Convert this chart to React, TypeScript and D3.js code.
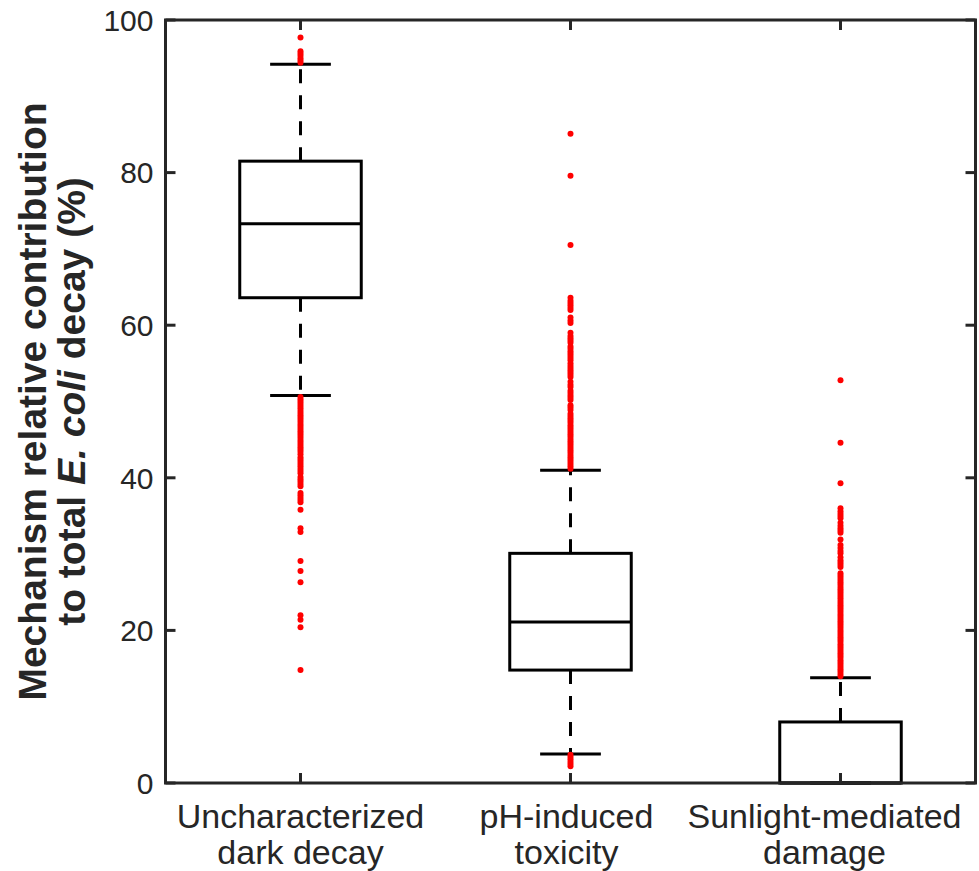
import React from "react";
import * as d3 from "d3";

const categories = ["Uncharacterized\ndark decay", "pH-induced\ntoxicity", "Sunlight-mediated\ndamage"];
const q1 = [63.6, 14.8, 0];
const median = [73.3, 21.1, 0];
const q3 = [81.5, 30.1, 8.0];
const whiskerLow = [50.8, 3.8, 0];
const whiskerHigh = [94.2, 41.0, 13.8];

const outliers1 = [
  94.4, 94.7, 95.0, 95.3, 95.6, 95.9, 97.7,
  50.6, 50.3, 50.0, 49.7, 49.4, 49.1, 48.8, 48.5, 48.2, 47.9, 47.6, 47.3, 47.0, 46.7, 46.4, 46.1,
  45.8, 45.5, 45.2, 44.9, 44.6, 44.3, 44.0, 43.7, 43.4, 43.1, 42.7, 42.4, 42.1, 41.8, 41.5, 41.2,
  40.9, 40.6, 40.1, 39.8, 39.5, 39.2, 38.9, 38.0, 37.7, 37.4, 37.1, 36.8, 35.8, 33.4, 32.9,
  29.1, 27.8, 26.3, 22.0, 21.4, 20.4, 14.8,
];
const outliers2 = [
  2.2, 2.5, 2.8, 3.1, 3.4, 3.7,
  41.2, 41.5, 41.8, 42.1, 42.4, 42.7, 43.0, 43.3, 43.6, 43.9, 44.2, 44.5, 44.8, 45.1, 45.4, 45.7,
  46.0, 46.3, 46.6, 46.9, 47.2, 47.5, 47.8, 48.1, 48.4, 48.9, 49.2, 49.5, 50.2, 50.5, 50.8, 51.1,
  51.4, 51.9, 52.2, 52.6, 53.2, 53.5, 53.8, 54.1, 54.4, 54.7, 55.0, 55.4, 55.7, 56.0, 56.3, 56.6,
  56.9, 57.2, 57.7, 58.0, 58.3, 58.6, 59.0, 60.3, 60.6, 61.0, 62.0, 62.3, 62.6, 62.9, 63.2, 63.6,
  70.5, 79.6, 85.1,
];
const outliers3 = [
  14.0, 14.3, 14.6, 14.9, 15.2, 15.5, 15.8, 16.1, 16.4, 16.7, 17.0, 17.3, 17.6, 17.9, 18.2, 18.5,
  18.8, 19.1, 19.4, 19.7, 20.0, 20.3, 20.6, 20.9, 21.2, 21.5, 21.8, 22.1, 22.4, 22.7, 23.0, 23.3,
  23.6, 23.9, 24.2, 24.5, 24.8, 25.1, 25.4, 25.7, 26.0, 26.3, 26.6, 26.9, 27.2, 27.5, 28.3, 28.6,
  28.9, 29.2, 29.6, 30.1, 30.4, 30.8, 31.2, 31.9, 32.8, 33.1, 33.4, 33.7, 34.1, 34.7, 35.0, 35.3,
  35.6, 36.0, 39.3, 44.6, 52.8,
];
const outliers = [outliers1, outliers2, outliers3];
const yTicks = [0, 20, 40, 60, 80, 100];

const W = 979;
const H = 871;
const FONT = "'Liberation Sans', Arial, Helvetica, sans-serif";
const AX = "#262626";
// horizontal nudges for the category labels (layout only)
const LABEL_SHIFT = [0, -4, -16];

export default function App() {
  const x = d3.scaleLinear().domain([0.5, 3.5]).range([165.5, 975.5]);
  const y = d3.scaleLinear().domain([0, 100]).range([783, 20]);
  const boxW = x(1.45) - x(1);
  const capW = boxW / 2;
  const [x0, x1] = x.range();
  const [yb, yt] = y.range();

  return (
    <svg width={W} height={H} style={{ position: "absolute", left: 0, top: 0, background: "#fff" }}>
      {categories.map((c, i) => {
        const cx = x(i + 1);
        return (
          <g key={i} stroke="#000" strokeWidth={3} fill="none">
            <line x1={cx} x2={cx} y1={y(q3[i])} y2={y(whiskerHigh[i])} strokeDasharray="14,12" />
            <line x1={cx} x2={cx} y1={y(q1[i])} y2={y(whiskerLow[i])} strokeDasharray="14,12" />
            <rect x={cx - boxW / 2} y={y(q3[i])} width={boxW} height={y(q1[i]) - y(q3[i])} />
            <line x1={cx - boxW / 2} x2={cx + boxW / 2} y1={y(median[i])} y2={y(median[i])} />
            <line x1={cx - capW / 2} x2={cx + capW / 2} y1={y(whiskerHigh[i])} y2={y(whiskerHigh[i])} />
            <line x1={cx - capW / 2} x2={cx + capW / 2} y1={y(whiskerLow[i])} y2={y(whiskerLow[i])} />
          </g>
        );
      })}
      {outliers.map((arr, i) => (
        <g key={i} fill="#ff0000">
          {arr.map((v, j) => (
            <circle key={j} cx={x(i + 1)} cy={y(v)} r={3} />
          ))}
        </g>
      ))}
      <rect x={x0} y={yt} width={x1 - x0} height={yb - yt} fill="none" stroke={AX} strokeWidth={3} />
      {yTicks.map((t) => (
        <g key={t}>
          <line x1={x0} x2={x0 + 10} y1={y(t)} y2={y(t)} stroke={AX} strokeWidth={3} />
          <line x1={x1} x2={x1 - 10} y1={y(t)} y2={y(t)} stroke={AX} strokeWidth={3} />
          <text x={x0 - 12} y={y(t)} dy="0.36em" textAnchor="end" fontFamily={FONT} fontSize={30} fill={AX}>
            {t}
          </text>
        </g>
      ))}
      {categories.map((c, i) => {
        const cx = x(i + 1);
        const lines = c.split("\n");
        return (
          <g key={i}>
            <line x1={cx} x2={cx} y1={yb} y2={yb - 10} stroke={AX} strokeWidth={3} />
            <line x1={cx} x2={cx} y1={yt} y2={yt + 10} stroke={AX} strokeWidth={3} />
            {lines.map((l, k) => (
              <text key={k} x={cx + LABEL_SHIFT[i]} y={828 + k * 36} textAnchor="middle" fontFamily={FONT} fontSize={34} fill={AX}>
                {l}
              </text>
            ))}
          </g>
        );
      })}
      <g transform={`translate(46, ${(yb + yt) / 2}) rotate(-90)`}>
        <text x={0} y={0} textAnchor="middle" fontFamily={FONT} fontSize={39} fontWeight="bold" fill={AX}>
          Mechanism relative contribution
        </text>
        <text x={0} y={39} textAnchor="middle" fontFamily={FONT} fontSize={39} fontWeight="bold" fill={AX}>
          to total <tspan fontStyle="italic">E. coli</tspan> decay (%)
        </text>
      </g>
    </svg>
  );
}
